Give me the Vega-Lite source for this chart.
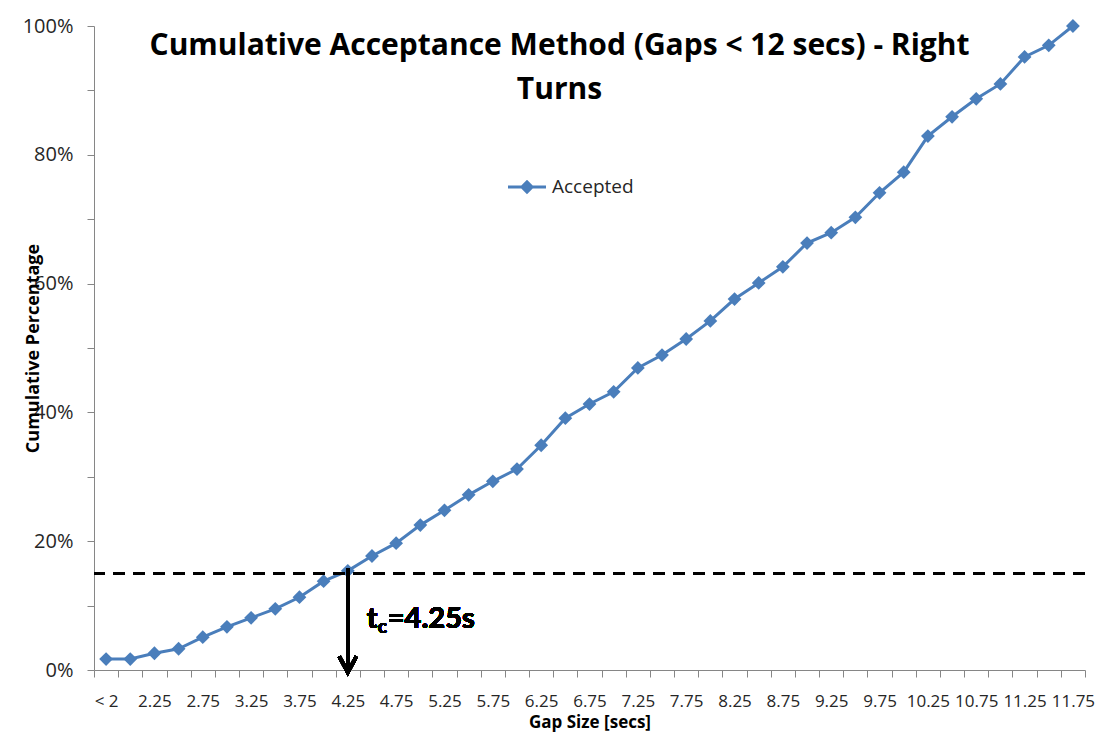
{
  "$schema": "https://vega.github.io/schema/vega-lite/v6.json",
  "width": 991,
  "height": 644,
  "autosize": "none",
  "padding": {"left": 94, "top": 26, "right": 22, "bottom": 68},
  "background": "white",
  "config": {
    "view": {"stroke": null},
    "font": "Lato"
  },
  "title": {
    "text": ["Cumulative Acceptance Method (Gaps < 12 secs) - Right", "Turns"],
    "font": "Open Sans",
    "fontSize": 30,
    "fontWeight": "bold",
    "color": "#000000",
    "anchor": "middle",
    "frame": "group",
    "dx": -30,
    "baseline": "alphabetic",
    "lineHeight": 44,
    "offset": -113
  },
  "data": {
    "values": [
      {"gap": "< 2", "pct": 0.017, "series": "Accepted"},
      {"gap": "2", "pct": 0.017, "series": "Accepted"},
      {"gap": "2.25", "pct": 0.026, "series": "Accepted"},
      {"gap": "2.5", "pct": 0.033, "series": "Accepted"},
      {"gap": "2.75", "pct": 0.051, "series": "Accepted"},
      {"gap": "3", "pct": 0.067, "series": "Accepted"},
      {"gap": "3.25", "pct": 0.081, "series": "Accepted"},
      {"gap": "3.5", "pct": 0.095, "series": "Accepted"},
      {"gap": "3.75", "pct": 0.113, "series": "Accepted"},
      {"gap": "4", "pct": 0.138, "series": "Accepted"},
      {"gap": "4.25", "pct": 0.154, "series": "Accepted"},
      {"gap": "4.5", "pct": 0.177, "series": "Accepted"},
      {"gap": "4.75", "pct": 0.197, "series": "Accepted"},
      {"gap": "5", "pct": 0.225, "series": "Accepted"},
      {"gap": "5.25", "pct": 0.248, "series": "Accepted"},
      {"gap": "5.5", "pct": 0.272, "series": "Accepted"},
      {"gap": "5.75", "pct": 0.293, "series": "Accepted"},
      {"gap": "6", "pct": 0.312, "series": "Accepted"},
      {"gap": "6.25", "pct": 0.349, "series": "Accepted"},
      {"gap": "6.5", "pct": 0.391, "series": "Accepted"},
      {"gap": "6.75", "pct": 0.413, "series": "Accepted"},
      {"gap": "7", "pct": 0.432, "series": "Accepted"},
      {"gap": "7.25", "pct": 0.469, "series": "Accepted"},
      {"gap": "7.5", "pct": 0.489, "series": "Accepted"},
      {"gap": "7.75", "pct": 0.514, "series": "Accepted"},
      {"gap": "8", "pct": 0.542, "series": "Accepted"},
      {"gap": "8.25", "pct": 0.576, "series": "Accepted"},
      {"gap": "8.5", "pct": 0.601, "series": "Accepted"},
      {"gap": "8.75", "pct": 0.626, "series": "Accepted"},
      {"gap": "9", "pct": 0.663, "series": "Accepted"},
      {"gap": "9.25", "pct": 0.679, "series": "Accepted"},
      {"gap": "9.5", "pct": 0.703, "series": "Accepted"},
      {"gap": "9.75", "pct": 0.741, "series": "Accepted"},
      {"gap": "10", "pct": 0.773, "series": "Accepted"},
      {"gap": "10.25", "pct": 0.829, "series": "Accepted"},
      {"gap": "10.5", "pct": 0.859, "series": "Accepted"},
      {"gap": "10.75", "pct": 0.887, "series": "Accepted"},
      {"gap": "11", "pct": 0.91, "series": "Accepted"},
      {"gap": "11.25", "pct": 0.952, "series": "Accepted"},
      {"gap": "11.5", "pct": 0.97, "series": "Accepted"},
      {"gap": "11.75", "pct": 1.0, "series": "Accepted"}
    ]
  },
  "layer": [
    {
      "mark": {"type": "line", "strokeWidth": 3, "point": {"shape": "diamond", "size": 190, "filled": true, "opacity": 1}},
      "encoding": {
        "x": {
          "field": "gap",
          "type": "ordinal",
          "sort": null,
          "scale": {"type": "band", "paddingInner": 0, "paddingOuter": 0},
          "axis": {
            "title": "Gap Size [secs]",
            "titleFont": "Open Sans",
            "titleFontSize": 17,
            "titleFontWeight": "bold",
            "titleColor": "#000000",
            "titleBaseline": "alphabetic",
            "titleY": 57,
            "labelAngle": 0,
            "labelFont": "Open Sans",
            "labelFontSize": 17,
            "labelColor": "#262626",
            "labelPadding": 16,
            "labelOverlap": false,
            "labelExpr": "(''+datum.value) == '< 2' || indexof(''+datum.value, '.25') > 0 || indexof(''+datum.value, '.75') > 0 ? datum.label : ''",
            "tickBand": "extent",
            "tickSize": 7,
            "tickColor": "#868686",
            "domainColor": "#868686",
            "grid": false
          }
        },
        "y": {
          "field": "pct",
          "type": "quantitative",
          "scale": {"domain": [0, 1], "nice": false},
          "axis": {
            "title": "Cumulative Percentage",
            "titleFont": "Open Sans",
            "titleFontSize": 18,
            "titleFontWeight": "bold",
            "titleColor": "#000000",
            "titleAngle": -90,
            "titleX": -56,
            "titleY": 322,
            "titleAlign": "center",
            "titleBaseline": "alphabetic",
            "values": [0, 0.05, 0.1, 0.15, 0.2, 0.25, 0.3, 0.35, 0.4, 0.45, 0.5, 0.55, 0.6, 0.65, 0.7, 0.75, 0.8, 0.85, 0.9, 0.95, 1],
            "format": ".0%",
            "labelExpr": "round(datum.value * 100) % 20 == 0 ? datum.label : ''",
            "labelFont": "Open Sans",
            "labelFontSize": 20,
            "labelColor": "#262626",
            "labelPadding": 14,
            "tickSize": 7,
            "tickColor": "#868686",
            "domainColor": "#868686",
            "grid": false
          }
        },
        "color": {
          "field": "series",
          "type": "nominal",
          "scale": {"range": ["#4A7EBB"]},
          "legend": {
            "title": null,
            "orient": "none",
            "legendX": 414,
            "legendY": 142,
            "padding": 0,
            "labelFont": "Open Sans",
            "labelFontSize": 19,
            "labelColor": "#262626",
            "labelOffset": 6,
            "symbolType": "M-1,-0.08L-0.3,-0.08L0,-0.38L0.3,-0.08L1,-0.08L1,0.08L0.3,0.08L0,0.38L-0.3,0.08L-1,0.08Z",
            "symbolSize": 1444,
            "symbolFillColor": "#4A7EBB",
            "symbolStrokeWidth": 0,
            "symbolOpacity": 1
          }
        }
      }
    },
    {
      "mark": {"type": "rule", "color": "#000000", "strokeWidth": 3, "strokeDash": [12, 8]},
      "encoding": {
        "y": {"datum": 0.15, "type": "quantitative"}
      }
    },
    {
      "mark": {"type": "rule", "color": "#000000", "strokeWidth": 3.5},
      "encoding": {
        "x": {"datum": "4.25", "type": "ordinal"},
        "y": {"datum": 0.158, "type": "quantitative"},
        "y2": {"datum": 0.003}
      }
    },
    {
      "mark": {"type": "point", "shape": "M-1,-1.9L0,0L1,-1.9", "size": 289, "filled": false, "stroke": "#000000", "strokeWidth": 3.5, "opacity": 1},
      "encoding": {
        "x": {"datum": "4.25", "type": "ordinal"},
        "y": {"datum": -0.004, "type": "quantitative"}
      }
    },
    {
      "mark": {"type": "text", "text": "t", "font": "Lato", "fontSize": 29, "fontWeight": "bold", "align": "left", "baseline": "alphabetic", "dx": 19, "color": "#000000"},
      "encoding": {"x": {"datum": "4.25", "type": "ordinal"}, "y": {"datum": 0.065, "type": "quantitative"}}
    },
    {
      "mark": {"type": "text", "text": "c", "font": "Lato", "fontSize": 19, "fontWeight": "bold", "align": "left", "baseline": "alphabetic", "dx": 30, "dy": 5, "color": "#000000"},
      "encoding": {"x": {"datum": "4.25", "type": "ordinal"}, "y": {"datum": 0.065, "type": "quantitative"}}
    },
    {
      "mark": {"type": "text", "text": "=4.25s", "font": "Lato", "fontSize": 29, "fontWeight": "bold", "align": "left", "baseline": "alphabetic", "dx": 40, "color": "#000000"},
      "encoding": {"x": {"datum": "4.25", "type": "ordinal"}, "y": {"datum": 0.065, "type": "quantitative"}}
    }
  ]
}
